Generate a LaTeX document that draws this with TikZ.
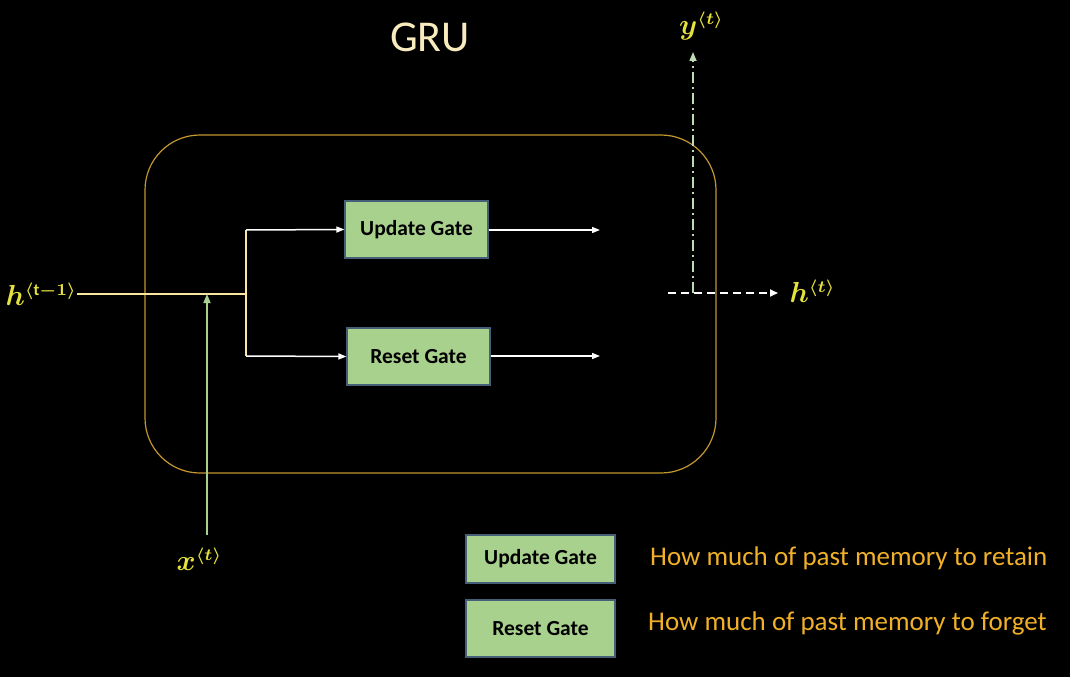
\documentclass[tikz,border=0pt]{standalone}
\usepackage{fontspec}
\setmainfont{Carlito}
\usetikzlibrary{arrows.meta}
\definecolor{cream}{RGB}{248,236,190}
\definecolor{hline}{RGB}{250,230,160}
\definecolor{gold}{RGB}{196,150,48}
\definecolor{lblyellow}{RGB}{228,226,60}
\definecolor{gatefill}{RGB}{169,209,142}
\definecolor{gateborder}{RGB}{70,95,120}
\definecolor{xgreen}{RGB}{169,209,142}
\definecolor{ygreen}{RGB}{190,220,180}
\definecolor{legendorange}{RGB}{240,176,40}
\newcommand{\mlab}[2]{\scalebox{2.9}{\boldmath$#1$}\raisebox{10pt}{\scalebox{2.4}{\boldmath$\scriptstyle #2$}}}
\begin{document}
\begin{tikzpicture}[x=1pt,y=-1pt,
  gatebox/.style={draw=gateborder, fill=gatefill, line width=1.2pt, minimum width=143pt, minimum height=57pt, inner sep=0pt, text=black, font=\fontsize{21.5}{24}\selectfont\bfseries},
  lgbox/.style={draw=gateborder, fill=gatefill, line width=1.2pt, minimum width=149pt, inner sep=0pt, text=black, font=\fontsize{21.5}{24}\selectfont\bfseries},
  mlabel/.style={text=lblyellow, inner sep=1pt},
  warrow/.style={white, line width=1.5pt, -{Triangle[length=8pt,width=6pt]}},
  legendtext/.style={text=legendorange, font=\fontsize{27}{30}\selectfont, anchor=west, inner sep=0pt}
]
\fill[black] (0,0) rectangle (1070,677);
\useasboundingbox (0,0) rectangle (1070,677);

% title
\node[text=cream, font=\fontsize{44}{50}\selectfont] (title) at (430,37) {GRU};

% cell
\node[draw=gold, line width=1.2pt, rounded corners=55pt, minimum width=571pt, minimum height=338pt, inner sep=0pt] (cell) at (430.5,304) {};

% gates
\node[gatebox] (upd) at (416.5,229.5) {Update Gate};
\node[gatebox] (rst) at (418.5,356.5) {Reset Gate};

% inputs
\node[mlabel, anchor=base east] (hprev) at (77,305) {\mlab{h}{\langle \mathrm{t}{-}1\rangle}};
\node[mlabel, anchor=base] (xin) at (199,570) {\mlab{x}{\langle t\rangle}};
\coordinate (junc) at (246,294);
\coordinate (xjoin) at (207,294);
\coordinate (xbase) at (207,535);
\coordinate (utop) at (246,230);
\coordinate (rbot) at (246,356);

\draw[hline, line width=2.6pt] (hprev.east |- junc) -- (junc);
\draw[hline, line width=2.6pt] (utop) -- (rbot);
\draw[warrow] (utop) -- (upd.west);
\draw[warrow] (rbot) -- (rst.west);
\draw[xgreen, line width=1.5pt, -{Triangle[length=9pt,width=7pt]}] (xbase) -- (xjoin);

% outputs of gates
\coordinate (uend) at (600,230);
\coordinate (rend) at (600,356);
\draw[warrow] (upd.east |- uend) -- (uend);
\draw[warrow] (rst.east |- rend) -- (rend);

% outputs
\node[mlabel, anchor=base] (hout) at (812,302) {\mlab{h}{\langle t\rangle}};
\node[mlabel, anchor=base] (yout) at (701,35) {\mlab{y}{\langle t\rangle}};
\coordinate (hstart) at (668,293);
\coordinate (hend) at (778,293);
\coordinate (ybase) at (693,293);
\coordinate (ytop) at (693,52);
\draw[white, line width=1.8pt, dash pattern=on 8pt off 5pt, -{Triangle[length=8pt,width=7pt]}] (hstart) -- (hend);
\draw[ygreen, line width=1.6pt, dash pattern=on 11pt off 4pt on 2pt off 4pt, -{Triangle[length=9pt,width=7pt]}] (ybase) -- (ytop);

% legend
\node[lgbox, minimum height=48pt] (lupd) at (540.5,559) {Update Gate};
\node[lgbox, minimum height=57pt] (lrst) at (540.5,628.5) {Reset Gate};
\node[legendtext] (lt1) at (650,558) {How much of past memory to retain};
\node[legendtext] (lt2) at (648,623) {How much of past memory to forget};
\end{tikzpicture}
\end{document}
